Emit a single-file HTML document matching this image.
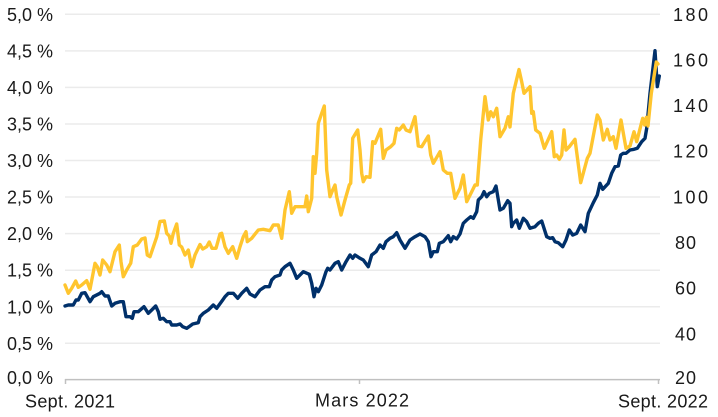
<!DOCTYPE html>
<html><head><meta charset="utf-8"><style>
html,body{margin:0;padding:0;background:#fff;}
svg{display:block;}
text{font-family:"Liberation Sans",sans-serif;font-size:18px;fill:#1a1a1a;}
</style></head><body>
<svg width="718" height="417" viewBox="0 0 718 417" xmlns="http://www.w3.org/2000/svg">
<g stroke="#ebebeb" stroke-width="1.5">
<line x1="65" x2="660" y1="14.3" y2="14.3"/>
<line x1="65" x2="660" y1="50.9" y2="50.9"/>
<line x1="65" x2="660" y1="87.4" y2="87.4"/>
<line x1="65" x2="660" y1="124" y2="124"/>
<line x1="65" x2="660" y1="160.5" y2="160.5"/>
<line x1="65" x2="660" y1="197" y2="197"/>
<line x1="65" x2="660" y1="233.6" y2="233.6"/>
<line x1="65" x2="660" y1="270.2" y2="270.2"/>
<line x1="65" x2="660" y1="306.8" y2="306.8"/>
<line x1="65" x2="660" y1="343.3" y2="343.3"/>
</g>
<g stroke="#c0c0c0" stroke-width="1.5">
<line x1="65" x2="660" y1="379.6" y2="379.6"/>
<line x1="65.5" x2="65.5" y1="379" y2="384"/>
<line x1="359.5" x2="359.5" y1="379" y2="384"/>
<line x1="658.5" x2="658.5" y1="379" y2="384"/>
</g>
<g text-anchor="end">
<text x="53" y="20.8" textLength="46" lengthAdjust="spacing">5,0 %</text>
<text x="53" y="57.4" textLength="46" lengthAdjust="spacing">4,5 %</text>
<text x="53" y="93.9" textLength="46" lengthAdjust="spacing">4,0 %</text>
<text x="53" y="130.5" textLength="46" lengthAdjust="spacing">3,5 %</text>
<text x="53" y="167" textLength="46" lengthAdjust="spacing">3,0 %</text>
<text x="53" y="203.5" textLength="46" lengthAdjust="spacing">2,5 %</text>
<text x="53" y="240.1" textLength="46" lengthAdjust="spacing">2,0 %</text>
<text x="53" y="276.7" textLength="46" lengthAdjust="spacing">1,5 %</text>
<text x="53" y="313.3" textLength="46" lengthAdjust="spacing">1,0 %</text>
<text x="53" y="349.8" textLength="46" lengthAdjust="spacing">0,5 %</text>
<text x="53" y="384" textLength="46" lengthAdjust="spacing">0,0 %</text>
</g>
<g>
<text x="673" y="20.8" textLength="35" lengthAdjust="spacing">180</text>
<text x="673" y="66.4" textLength="35" lengthAdjust="spacing">160</text>
<text x="673" y="112" textLength="35" lengthAdjust="spacing">140</text>
<text x="673" y="157.7" textLength="35" lengthAdjust="spacing">120</text>
<text x="673" y="203.3" textLength="35" lengthAdjust="spacing">100</text>
<text x="675" y="249" textLength="21" lengthAdjust="spacing">80</text>
<text x="675" y="294.6" textLength="21" lengthAdjust="spacing">60</text>
<text x="675" y="340.3" textLength="21" lengthAdjust="spacing">40</text>
<text x="675" y="384" textLength="21" lengthAdjust="spacing">20</text>
</g>
<text x="25" y="407.5" textLength="90" lengthAdjust="spacing">Sept. 2021</text>
<text x="315" y="406.5" textLength="94" lengthAdjust="spacing">Mars 2022</text>
<text x="618" y="407.5" textLength="90" lengthAdjust="spacing">Sept. 2022</text>

<polyline fill="none" stroke="#00306a" stroke-width="3.4" stroke-linejoin="round" stroke-linecap="round" points="
65,306 68.3,305 73.3,305 76,300 78.3,300 81.7,293.3 85,292.7 90,301.7 93.3,296.7 100,293.3 101.7,291.7 105,296 108.3,296 111.7,306 115,303.3 120,301.7 123.3,301.7 126,316.7 130,316.7 132.3,318.3 134,311.7 138.3,311.7 144,306.7 148.3,313.3 151.7,310 155.7,306 158.3,311.7 160,319.3 163.3,318.3 166.7,321.7 170,321.7 171.7,325 176.7,325 180,324 182.7,326.7 186.7,328.3 190,326 192.7,324 198.3,322.7 200,316.7 203.3,313.3 208.3,310 213.3,305 216.7,308.3 222.7,300 225,296.7 228.3,293.3 233.3,293.3 237.7,298.3 241.7,293.3 246.7,288.3 250,294 255,296.7 260,290 265,286.7 269.3,286.7 271.7,280 275,276.7 280,275 281.7,270 285,266.7 290,263.3 293.3,270 296.7,278.3 303.3,271.7 309.3,274.3 311.7,283.3 314,296.7 316,288.3 318.3,291.7 321.7,285 326,271.7 327.7,268.3 330,270 335,263.3 338.3,261.7 341.7,270 346,261.7 350,255 352.7,258.3 355,255 360,258.3 363.3,260 368.3,266.7 371.7,255 376,251.7 380,245 383.3,248.3 386,241.7 390,238.3 393.3,236.7 396.7,232.7 400,240 405,248.3 410,240 415,236.7 420,234 425,236.7 428.3,241.7 431,256.7 433.3,251.7 437.3,251.7 439.3,243.3 443.3,241.7 448.3,235.7 450.7,241.7 453.3,236.7 456.7,239 460,234 463.3,223.3 466.7,220 470.7,216.7 473.3,218.3 476.7,211.7 478.3,200 481.7,196.7 484,191.7 486.7,196.7 489.3,193.3 493.3,191.7 496,186 500,210 503.3,208.3 507.7,200.7 510,203.3 511.7,226.7 513.3,223.3 516.7,220 519.3,228.3 523.3,218.3 526.7,221.7 530,228.3 535,226.7 538.3,223.3 541.7,221 546.7,236.7 550,238.3 552.7,237.7 555,241.7 558.3,242.7 562.7,246.7 566,240 569.3,230 572.7,235 576.7,233.3 580.7,225 585,231.7 588.3,213.3 593.3,202.7 597.3,195 600,183.3 602.7,189.3 608.3,183.3 611.7,173.3 615,166.7 618.3,166 620.7,155 623.3,153.3 626,153.3 630,150 634,149.3 637.3,148.3 641.7,141.7 645,138.3 646.7,128.3 650,93.3 655,50.7 657.3,86.7 659.3,76"/>

<polyline fill="none" stroke="#ffc52e" stroke-width="3.4" stroke-linejoin="round" stroke-linecap="round" points="
65,285 68.3,293.3 71.7,288.3 75.7,281 78.3,287.3 81.7,285 86.7,280.7 90,289.3 95,263.3 97.3,266.7 100,275 102.7,260 106.7,265 110,271.7 115,251.7 119.3,245 121,261.7 123.3,276.7 126.7,270 130.7,263.3 133.3,246.7 137.3,245 141.7,239 145,238 147.3,255 150,256.7 156.7,237 160,221.5 164.3,221 166.7,233.3 169.3,236 171,243.3 173.3,233.3 176.7,224 179.3,245 181.7,247 185,255 188.3,250 191.7,266.7 195,255 200,244.5 202.7,249 206.7,246.7 209.3,242 212,248.3 216,248.3 220,234 221.7,233.3 225,246.7 228.3,253.3 232.7,246.7 236.7,258.3 240,246.7 243.3,236.7 246,231.7 247.3,241.7 251.7,238.3 258.3,230 263.3,229.3 270,230.7 273.3,225 278.3,225 281.7,238.3 285,210 289.3,191.7 291.7,213.3 295,206.7 305,206.7 306.7,196 308.3,211.7 311.7,198.3 313.3,156.7 315,173.3 316.7,153.3 318.3,123.3 321.7,113.3 324.3,106 326.7,170 330,196.7 332.7,190 335,185 336.7,196.7 341,215 345,200 349.3,185 350.7,183.3 352.7,138.3 357.7,130 360,150 361.7,173.3 363.3,181.7 366,176.7 370,177.3 372.7,141.7 375,143.3 380.7,129.3 383.3,158.3 386,150 390.7,146.7 394,143.3 396.7,128.3 399.3,130 403.3,125 406,130 410,131.7 415,116.7 418.3,146 421.7,146.7 428.3,136 430.7,155 433.3,163.3 440,151.7 443.3,170 447.3,173.3 450.7,173.3 455,198.3 460,188.3 463.3,175 466.7,201.7 471.7,191.7 475,185 477.3,185 480.7,140 485,96.7 488.3,120 490.7,111.7 493.3,116.7 496.7,108.3 500,136.7 505,128.3 508.3,116.7 510,127 513.3,93.3 519,69.5 521.7,81.7 524,93.3 530,86.7 531.7,113.3 533.3,111.7 535.7,130 540,133.3 544.3,148.3 551.7,131.7 554.3,156.7 556.7,155 559.3,159.3 561.7,155 564,130 566,150 569.3,146.7 575,139.3 580.7,182.7 587.3,158.3 590,153.3 597.3,115 600,120 603.3,140 607.3,129.3 610,140 613.3,136.7 616,148.3 621,120 626,148.3 630,146 634,131.7 636.7,141.7 642.7,118.3 644.7,125 646.3,117.3 648,126 651.3,93.3 656.3,62 658,64"/>
</svg>
</body></html>
